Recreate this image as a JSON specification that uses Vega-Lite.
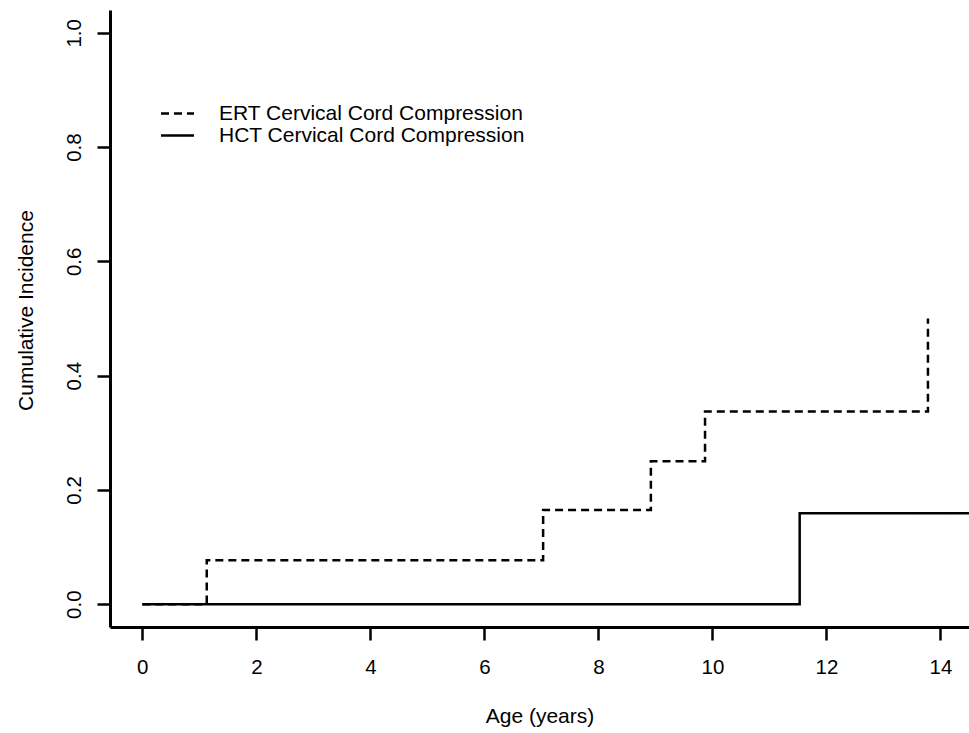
{
  "$schema": "https://vega.github.io/schema/vega-lite/v6.json",
  "width": 859,
  "height": 617,
  "autosize": {"type": "none"},
  "padding": {"left": 110, "top": 10, "right": 0, "bottom": 106},
  "background": "white",
  "config": {
    "view": {"stroke": null},
    "font": "Liberation Sans",
    "axis": {"grid": false}
  },
  "data": {
    "values": [
      {"group": "ERT Cervical Cord Compression", "age": 0, "ci": 0},
      {"group": "ERT Cervical Cord Compression", "age": 1.13, "ci": 0.077},
      {"group": "ERT Cervical Cord Compression", "age": 7.03, "ci": 0.165},
      {"group": "ERT Cervical Cord Compression", "age": 8.92, "ci": 0.25},
      {"group": "ERT Cervical Cord Compression", "age": 9.87, "ci": 0.337},
      {"group": "ERT Cervical Cord Compression", "age": 13.78, "ci": 0.5},
      {"group": "HCT Cervical Cord Compression", "age": 0, "ci": 0},
      {"group": "HCT Cervical Cord Compression", "age": 11.53, "ci": 0.159},
      {"group": "HCT Cervical Cord Compression", "age": 14.7, "ci": 0.159}
    ]
  },
  "mark": {"type": "line", "interpolate": "step-after", "color": "black", "strokeWidth": 2.5, "clip": true},
  "encoding": {
    "x": {
      "field": "age", "type": "quantitative",
      "scale": {"domain": [-0.567, 14.5], "nice": false, "zero": false},
      "axis": {
        "title": "Age (years)",
        "values": [0, 2, 4, 6, 8, 10, 12, 14],
        "format": "d",
        "domainColor": "black", "domainWidth": 3,
        "tickColor": "black", "tickWidth": 2.5, "tickSize": 13,
        "labelFontSize": 20.5, "labelColor": "black", "labelBaseline": "alphabetic", "labelPadding": 33,
        "labelFont": "Liberation Sans",
        "titleFont": "Liberation Sans", "titleFontSize": 21, "titleFontWeight": "normal", "titleColor": "black",
        "titleBaseline": "alphabetic", "titleY": 95.5
      }
    },
    "y": {
      "field": "ci", "type": "quantitative",
      "scale": {"domain": [-0.04, 1.04], "nice": false, "zero": false},
      "axis": {
        "title": "Cumulative Incidence",
        "values": [0, 0.2, 0.4, 0.6, 0.8, 1.0],
        "format": ".1f",
        "domainColor": "black", "domainWidth": 3,
        "tickColor": "black", "tickWidth": 2.5, "tickSize": 13,
        "labelFontSize": 20.5, "labelColor": "black", "labelAngle": -90,
        "labelAlign": "center", "labelBaseline": "alphabetic", "labelPadding": 17,
        "labelFont": "Liberation Sans",
        "titleFont": "Liberation Sans", "titleFontSize": 21, "titleFontWeight": "normal", "titleColor": "black",
        "titleAngle": -90, "titleAlign": "center", "titleBaseline": "alphabetic",
        "titleX": -78, "titleY": 300
      }
    },
    "strokeDash": {
      "field": "group", "type": "nominal",
      "scale": {
        "domain": ["ERT Cervical Cord Compression", "HCT Cervical Cord Compression"],
        "range": [[8, 5], [1, 0]]
      },
      "legend": {
        "title": null,
        "orient": "none",
        "legendX": 56,
        "legendY": 92,
        "padding": 0,
        "symbolType": "M-1.65,0H1.65",
        "symbolSize": 400,
        "symbolStrokeWidth": 2.5,
        "symbolStrokeColor": "black",
        "symbolFillColor": "transparent",
        "rowPadding": -1,
        "labelOffset": 30,
        "labelFontSize": 21,
        "labelFont": "Liberation Sans",
        "labelColor": "black",
        "labelLimit": 0
      }
    }
  }
}
